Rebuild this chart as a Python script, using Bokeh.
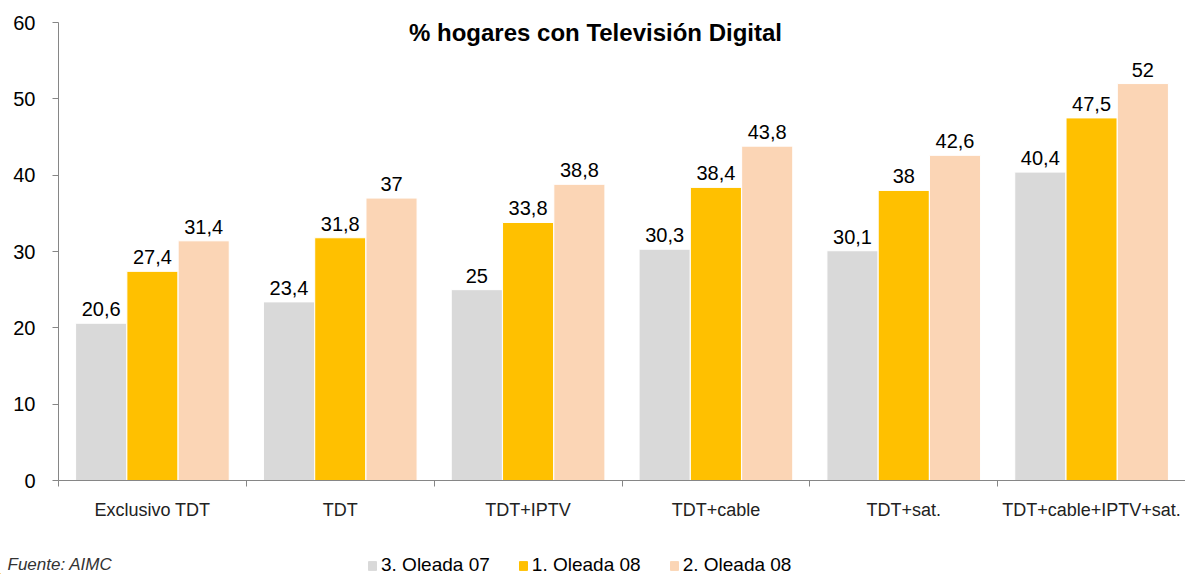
from bokeh.plotting import figure
from bokeh.layouts import column
from bokeh.models import ColumnDataSource, FixedTicker, Label, Legend, LegendItem, Range1d
from bokeh.core.properties import value
from bokeh.embed import file_html
from bokeh.resources import INLINE

categories = ["Exclusivo TDT", "TDT", "TDT+IPTV", "TDT+cable", "TDT+sat.", "TDT+cable+IPTV+sat."]
series_names = ["3. Oleada 07", "1. Oleada 08", "2. Oleada 08"]
ola07_3 = [20.6, 23.4, 25.0, 30.3, 30.1, 40.4]
ola08_1 = [27.4, 31.8, 33.8, 38.4, 38.0, 47.5]
ola08_2 = [31.4, 37.0, 38.8, 43.8, 42.6, 52.0]
colors = ["#D9D9D9", "#FFC000", "#FBD5B5"]
y_ticks = [0, 10, 20, 30, 40, 50, 60]

FONT = "Liberation Sans"

p = figure(width=1185, height=530, output_backend="svg", toolbar_location=None,
           x_range=Range1d(0, 6), y_range=Range1d(0, 60),
           min_border_left=58, min_border_right=0, min_border_top=22, min_border_bottom=50)
p.outline_line_color = None
p.grid.visible = False
p.background_fill_color = "white"
p.border_fill_color = "white"
p.frame_align = False

width = 0.272
offsets = [-0.273, 0.0, 0.273]
all_series = [ola07_3, ola08_1, ola08_2]
for vals, off, col in zip(all_series, offsets, colors):
    xs = [i + 0.5 + off for i in range(len(categories))]
    labels = [("%g" % v).replace(".", ",") for v in vals]
    src = ColumnDataSource(dict(x=xs, top=vals, lab=labels))
    p.vbar(x="x", top="top", width=width, bottom=0, source=src,
           fill_color=col, line_color="white", line_width=1)
    p.text(x="x", y="top", text="lab", source=src, text_align="center",
           text_baseline="bottom", y_offset=-7, text_font_size=value("20px"),
           text_font=value(FONT), text_color="#000000")

# y axis
ya = p.yaxis[0]
ya.ticker = FixedTicker(ticks=y_ticks, minor_ticks=[])
ya.axis_line_color = "#868686"
ya.major_tick_line_color = "#868686"
ya.major_tick_out = 6
ya.major_tick_in = 0
ya.minor_tick_line_color = None
ya.major_label_text_font = FONT
ya.major_label_text_font_size = "20px"
ya.major_label_text_color = "#000000"
ya.major_label_standoff = 17

# x axis
xa = p.xaxis[0]
xa.ticker = FixedTicker(ticks=[i + 0.5 for i in range(len(categories))],
                        minor_ticks=list(range(len(categories) + 1)))
xa.major_label_overrides = {i + 0.5: c for i, c in enumerate(categories)}
xa.axis_line_color = "#868686"
xa.major_tick_line_color = None
xa.minor_tick_line_color = "#868686"
xa.minor_tick_out = 6
xa.minor_tick_in = 0
xa.major_label_text_font = FONT
xa.major_label_text_font_size = "18px"
xa.major_label_text_color = "#222222"
xa.major_label_standoff = 13

title = Label(x=537, y=448, x_units="screen", y_units="screen",
              text="% hogares con Televisión Digital", text_align="center",
              text_baseline="middle", text_font=FONT, text_font_style="bold",
              text_font_size="24px", text_color="#000000")
p.add_layout(title)

# footer with legend and source
f = figure(width=1185, height=44, output_backend="svg", toolbar_location=None,
           x_range=Range1d(0, 1185), y_range=Range1d(0, 44),
           x_axis_type=None, y_axis_type=None,
           min_border_left=0, min_border_right=0, min_border_top=0, min_border_bottom=0)
f.outline_line_color = None
f.grid.visible = False
f.border_fill_color = "white"
f.frame_align = False
items = []
for name, col in zip(series_names, colors):
    r = f.vbar(x=[-1000], top=[1], width=1, fill_color=col, line_color=col)
    items.append(LegendItem(label=name, renderers=[r]))
legend = Legend(items=items, orientation="horizontal", location=(367, -2),
                label_text_font=FONT, label_text_font_size="19px", label_text_color="#000000",
                glyph_width=10, glyph_height=11, label_standoff=4, spacing=28,
                background_fill_alpha=0, border_line_color=None, padding=0, margin=0)
f.add_layout(legend, "center")

src_lab = Label(x=7, y=20, x_units="screen", y_units="screen",
                text="Fuente: AIMC", text_align="left", text_baseline="top",
                text_font=FONT, text_font_style="italic", text_font_size="17px",
                text_color="#333333")
f.add_layout(src_lab)

layout = column(p, f, spacing=0)
open("out.html", "w").write(file_html(layout, INLINE))
